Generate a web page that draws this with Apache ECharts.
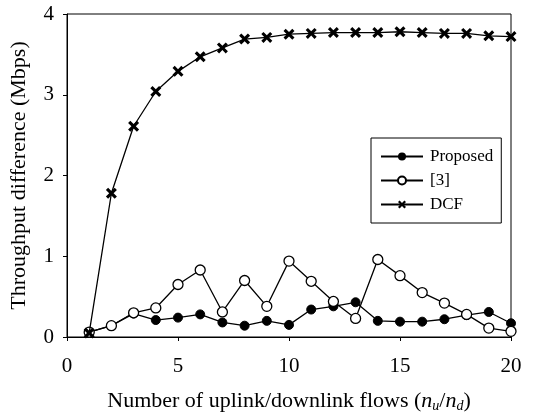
<!DOCTYPE html>
<html>
<head>
<meta charset="utf-8">
<style>
  html, body { margin: 0; padding: 0; background: #fff; }
  #chart { width: 533px; height: 416px; }
</style>
<script src="https://cdn.jsdelivr.net/npm/echarts@6/dist/echarts.min.js"></script>
</head>
<body>
<div id="chart"></div>
<script>
  // flows n_u/n_d
  var flows = [1, 2, 3, 4, 5, 6, 7, 8, 9, 10, 11, 12, 13, 14, 15, 16, 17, 18, 19, 20]
  var proposed = [0.06, 0.14, 0.29, 0.21, 0.24, 0.28, 0.18, 0.14, 0.20, 0.15,
    0.34, 0.38, 0.43, 0.20, 0.19, 0.19, 0.22, 0.27, 0.31, 0.17]
  var ref3 = [0.06, 0.14, 0.30, 0.36, 0.65, 0.83, 0.31, 0.70, 0.38, 0.94,
    0.69, 0.44, 0.23, 0.96, 0.76, 0.55, 0.42, 0.28, 0.11, 0.07]
  var dcf = [0.05, 1.78, 2.61, 3.04, 3.29, 3.47, 3.58, 3.69, 3.71, 3.75,
    3.76, 3.77, 3.77, 3.77, 3.78, 3.77, 3.76, 3.76, 3.73, 3.72]

  var font = 'Liberation Serif'
  var crossIcon = 'path://M2,0 L5,3 L8,0 L10,2 L7,5 L10,8 L8,10 L5,7 L2,10 L0,8 L3,5 L0,2 Z'

  function pairs(ys) {
    return flows.map(function (x, i) { return [x, ys[i]] })
  }

  var chart = echarts.init(document.getElementById('chart'))
  chart.setOption({
    animation: false,
    grid: {
      left: 67,
      right: 22,
      top: 14,
      bottom: 79,
      outerBoundsMode: 'none',
      show: true,
      borderColor: '#000',
      borderWidth: 1
    },
    legend: {
      orient: 'vertical',
      left: 371,
      top: 138,
      padding: [10, 8, 10, 9],
      itemGap: 7,
      itemWidth: 42,
      itemHeight: 10,
      borderColor: '#000',
      borderWidth: 1,
      textStyle: { fontFamily: font, fontSize: 17, color: '#000', padding: [0, 0, 0, 2] },
      data: ['Proposed', '[3]', 'DCF']
    },
    xAxis: {
      type: 'value',
      min: 0,
      max: 20,
      interval: 5,
      name: '{t|Number of uplink/downlink flows (}{i|n}{s|u}{t|/}{i|n}{s|d}{t|)}',
      nameLocation: 'middle',
      nameGap: 52,
      nameTextStyle: {
        rich: {
          t: { fontFamily: font, fontSize: 22, color: '#000' },
          i: { fontFamily: font, fontSize: 22, fontStyle: 'italic', color: '#000' },
          s: { fontFamily: font, fontSize: 14, fontStyle: 'italic', color: '#000', verticalAlign: 'bottom', padding: [10, 0, 0, 0] }
        }
      },
      axisLine: { lineStyle: { color: '#000', width: 1 } },
      axisTick: { length: 4, lineStyle: { color: '#000' } },
      axisLabel: { fontFamily: font, fontSize: 21, color: '#000', margin: 19 },
      splitLine: { show: false }
    },
    yAxis: {
      type: 'value',
      min: 0,
      max: 4,
      interval: 1,
      name: 'Throughput difference (Mbps)',
      nameLocation: 'middle',
      nameGap: 37,
      nameTextStyle: { fontFamily: font, fontSize: 22, color: '#000' },
      axisLine: { show: true, lineStyle: { color: '#000', width: 1 } },
      axisTick: { show: true, length: 4, lineStyle: { color: '#000' } },
      axisLabel: { fontFamily: font, fontSize: 21, color: '#000', margin: 13 },
      splitLine: { show: false }
    },
    series: [{
      name: 'Proposed',
      type: 'line',
      data: pairs(proposed),
      symbol: 'circle',
      symbolSize: 9,
      lineStyle: { color: '#000', width: 1.3 },
      itemStyle: { color: '#000', borderColor: '#000' },
      z: 2
    }, {
      name: '[3]',
      type: 'line',
      data: pairs(ref3),
      symbol: 'circle',
      symbolSize: 10,
      lineStyle: { color: '#000', width: 1.3 },
      itemStyle: { color: '#fff', borderColor: '#000', borderWidth: 1.3 },
      z: 3
    }, {
      name: 'DCF',
      type: 'line',
      data: pairs(dcf),
      symbol: crossIcon,
      symbolSize: 11,
      lineStyle: { color: '#000', width: 1.3 },
      itemStyle: { color: '#000' },
      z: 4
    }]
  })
</script>
</body>
</html>
